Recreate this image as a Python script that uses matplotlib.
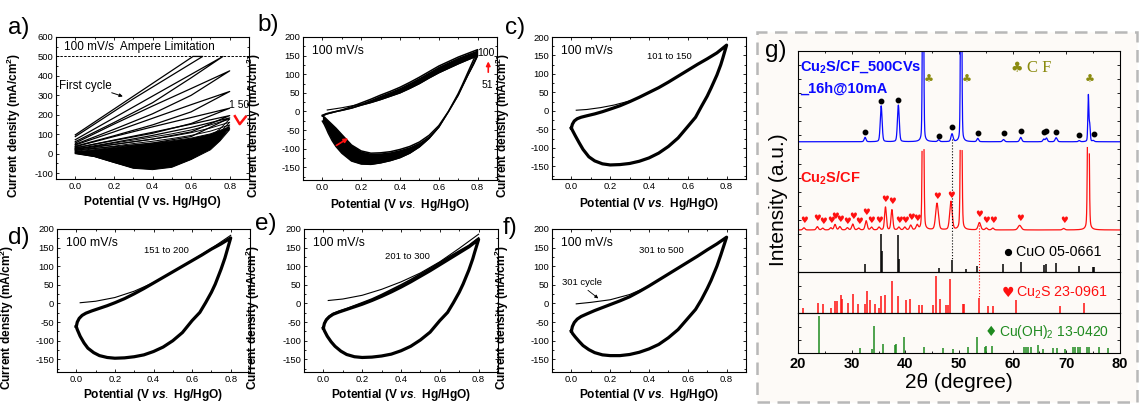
import numpy as np
import matplotlib.pyplot as plt
from matplotlib.patches import Rectangle
from matplotlib.ticker import MultipleLocator, NullFormatter

plt.rcParams['font.family'] = ['Liberation Sans', 'DejaVu Sans']
plt.rcParams['mathtext.fontset'] = 'custom'
plt.rcParams['mathtext.rm'] = 'Liberation Sans'
plt.rcParams['mathtext.it'] = 'Liberation Sans:italic:bold'
plt.rcParams['mathtext.bf'] = 'Liberation Sans:bold'
plt.rcParams['mathtext.default'] = 'regular'
plt.rcParams['axes.unicode_minus'] = False
plt.rcParams['xtick.direction'] = 'in'
plt.rcParams['ytick.direction'] = 'in'
plt.rcParams['axes.linewidth'] = 0.8

# ---------------- CV data (potential V vs Hg/HgO, current mA/cm2) ----------------
# a) cycles 1-50, early cycles as separate loops
a_early_v = [
    [0.0, 0.61, 0.66, 0.30, 0.0],
    [0.0, 0.40, 0.765, 0.60, 0.40, 0.20, 0.0],
    [0.0, 0.2, 0.4, 0.6, 0.8, 0.6, 0.4, 0.2, 0.0],
    [0.0, 0.2, 0.4, 0.6, 0.8, 0.6, 0.4, 0.2, 0.0],
    [0.0, 0.2, 0.4, 0.6, 0.8, 0.6, 0.4, 0.2, 0.0],
    [0.0, 0.2, 0.4, 0.6, 0.8, 0.6, 0.4, 0.2, 0.0],
    [0.0, 0.2, 0.4, 0.6, 0.8, 0.6, 0.4, 0.2, 0.0],
]
a_early_i = [
    [97, 500, 500, 282, 88],
    [72, 296, 500, 390, 262, 160, 62],
    [55, 152, 245, 335, 426, 300, 205, 125, 48],
    [45, 112, 182, 252, 320, 215, 148, 92, 38],
    [36, 88, 138, 186, 234, 155, 105, 68, 30],
    [29, 70, 110, 152, 196, 112, 75, 48, 24],
    [24, 58, 94, 135, 184, 88, 55, 36, 19],
]
# later cycles with the cathodic dip
a_late_v = [0.0, 0.1, 0.2, 0.3, 0.4, 0.5, 0.6, 0.7, 0.8,
            0.75, 0.7, 0.6, 0.5, 0.4, 0.3, 0.2, 0.1, 0.0]
a_late_i = [
    [20, 38, 55, 70, 86, 102, 122, 148, 178, 128, 88, 30, -5, -20, -18, -8, 5, 16],
    [16, 32, 47, 61, 75, 90, 108, 132, 162, 110, 70, 10, -28, -45, -42, -25, -5, 12],
    [12, 26, 39, 52, 64, 78, 94, 116, 148, 95, 55, -8, -45, -60, -56, -36, -10, 8],
    [9, 21, 32, 43, 54, 66, 80, 102, 138, 82, 42, -22, -58, -70, -66, -42, -13, 5],
    [6, 16, 26, 36, 46, 57, 70, 92, 130, 72, 30, -28, -66, -78, -72, -45, -15, 2],
    [3, 12, 21, 30, 40, 50, 62, 84, 124, 66, 20, -30, -70, -82, -75, -45, -15, 0],
]

# b) cycles 51-100, the two edges of the band
b_fv = [0.0, 0.02, 0.05, 0.1, 0.15, 0.2, 0.25, 0.3, 0.35, 0.4, 0.45, 0.5, 0.55, 0.6, 0.65, 0.7, 0.75, 0.8]
b_out_fi = [-12, -7, -3, 4, 13, 23, 33, 44, 54, 65, 78, 92, 107, 122, 134, 146, 156, 166]
b_in_fi = [-10, -6, -2, 3, 9, 17, 24, 32, 41, 50, 62, 75, 90, 104, 116, 128, 139, 150]
b_rv = [0.8, 0.78, 0.75, 0.72, 0.7, 0.65, 0.6, 0.55, 0.5, 0.45, 0.4, 0.35, 0.3, 0.25, 0.2,
        0.15, 0.1, 0.07, 0.05, 0.03, 0.02, 0.01, 0.0]
b_out_ri = [166, 140, 105, 70, 48, 0, -42, -72, -95, -112, -124, -132, -138, -142, -141,
            -133, -112, -94, -78, -58, -46, -35, -26]
b_in_ri = [150, 128, 98, 66, 44, 0, -38, -64, -82, -94, -102, -108, -111, -112, -106,
           -90, -62, -45, -35, -25, -20, -15, -12]
b_start_v = [0.025, 0.1, 0.2]
b_start_i = [4, 10, 20]

# c) to f): one potential grid per sweep direction
cv_fwd_v = [0.0, 0.005, 0.015, 0.03, 0.05, 0.08, 0.12, 0.16, 0.2, 0.25, 0.3, 0.35, 0.4,
            0.45, 0.5, 0.55, 0.6, 0.65, 0.7, 0.75, 0.8]
cv_rev_v = [0.8, 0.79, 0.78, 0.77, 0.75, 0.72, 0.7, 0.67, 0.64, 0.6, 0.55, 0.5, 0.45,
            0.4, 0.35, 0.3, 0.25, 0.2, 0.16, 0.12, 0.09, 0.06, 0.04, 0.02, 0.005, 0.0]

c_fi = [-46, -36, -27, -21, -17, -13, -8, -2, 5, 14, 25, 37, 50, 63, 78, 94, 110, 126, 141, 157, 178]
c_ri = [178, 160, 142, 125, 97, 62, 40, 12, -17, -42, -73, -96, -114, -127, -136, -142,
        -145, -146, -143, -135, -124, -104, -86, -67, -52, -46]
c_start_v = [0.025, 0.08, 0.15, 0.22, 0.3]
c_start_i = [2, 4, 9, 16, 27]

d_fi = [-62, -50, -40, -32, -26, -20, -13, -6, 2, 13, 26, 40, 55, 70, 85, 100, 115, 130, 146, 160, 176]
d_ri = [176, 158, 140, 122, 92, 52, 30, 2, -24, -46, -78, -100, -117, -129, -138, -143,
        -146, -147, -145, -140, -132, -120, -106, -88, -70, -62]
d_start_v = [0.02, 0.1, 0.2, 0.3, 0.4, 0.5, 0.6, 0.7, 0.8]
d_start_i = [2, 6, 16, 33, 56, 85, 116, 148, 183]

e_fi = [-66, -54, -44, -36, -29, -23, -16, -9, -2, 8, 19, 31, 44, 58, 73, 88, 104, 120, 136, 152, 172]
e_fi2 = [-64, -52, -42, -34, -27, -21, -14, -6, 2, 12, 24, 37, 50, 64, 79, 94, 110, 126, 141, 156, 176]
e_ri = [172, 155, 138, 120, 90, 52, 30, 2, -24, -46, -77, -98, -115, -127, -136, -141,
        -144, -145, -143, -137, -128, -115, -103, -88, -73, -66]
e_start_v = [0.025, 0.1, 0.2, 0.3, 0.4, 0.5, 0.6, 0.7, 0.8]
e_start_i = [8, 12, 22, 38, 58, 82, 112, 148, 186]

f_fi = [-74, -62, -51, -42, -35, -28, -19, -11, -3, 7, 18, 32, 47, 63, 79, 95, 111, 127, 144, 160, 178]
f_ri = [178, 162, 146, 130, 100, 62, 40, 10, -16, -40, -70, -92, -110, -122, -131, -137,
        -140, -140, -138, -132, -124, -113, -102, -90, -80, -74]
f_start_v = [0.025, 0.1, 0.2, 0.3, 0.38]
f_start_i = [-1, 3, 10, 24, 42]

# ---------------- XRD data ----------------
# after 500 CVs (blue): peak position (2theta), height, fwhm
blue_pos = [32.5, 35.5, 38.7, 43.3, 46.2, 48.7, 50.4, 53.5, 58.3, 61.5, 65.8, 66.3, 68.1, 72.4, 74.1, 74.35, 75.0]
blue_hgt = [2.4, 19.6, 20.0, 150, 1.0, 4.2, 150, 1.8, 1.2, 2.4, 1.4, 2.0, 2.2, 0.6, 25, 9, 0.6]
blue_wid = [0.4, 0.4, 0.4, 0.25, 0.4, 0.45, 0.25, 0.4, 0.45, 0.45, 0.4, 0.4, 0.45, 0.4, 0.22, 0.25, 0.4]
cuo_dot_x = [32.5, 35.5, 38.7, 46.2, 48.7, 53.5, 58.3, 61.5, 65.8, 66.3, 68.1, 72.4, 75.2]
cuo_dot_y = [55.6, 72.7, 73.0, 53.4, 58.3, 55.0, 55.0, 56.3, 55.7, 56.3, 55.6, 53.9, 54.6]
cf_club_x = [44.4, 51.4, 74.3]
cf_club_y = [84.2, 84.2, 84.2]

# pristine Cu2S/CF (red)
red_pos = [21.1, 23.6, 24.6, 26.1, 26.9, 27.8, 29.2, 30.2, 31.3, 32.7, 33.7, 35.1, 36.3, 37.5, 38.8,
           39.9, 41.0, 42.2, 43.3, 45.9, 48.5, 50.4, 53.8, 55.1, 56.3, 61.3, 69.5, 74.1]
red_hgt = [1.2, 1.8, 1.0, 1.2, 3.0, 1.8, 1.2, 3.2, 1.0, 5.0, 1.5, 1.5, 12.5, 11.0, 1.5,
           1.5, 2.5, 2.5, 120, 14.5, 15.5, 120, 4.0, 1.0, 1.0, 2.5, 0.8, 120]
red_wid = [0.45, 0.45, 0.45, 0.45, 0.45, 0.45, 0.45, 0.45, 0.45, 0.45, 0.45, 0.45, 0.4, 0.4, 0.45,
           0.45, 0.45, 0.45, 0.3, 0.6, 0.55, 0.3, 0.55, 0.45, 0.45, 0.7, 0.5, 0.3]
heart_x = [21.1, 23.6, 24.6, 26.1, 26.9, 27.8, 29.2, 30.2, 31.3, 32.7, 33.7, 35.1, 36.3, 37.5,
           38.8, 39.9, 41.0, 42.2, 45.9, 48.5, 53.8, 55.1, 56.3, 61.3, 69.5]
heart_y = [7.3, 8.2, 6.7, 7.3, 9.8, 7.7, 7.0, 9.8, 6.6, 11.6, 7.5, 7.5, 19.0, 17.5,
           7.5, 7.3, 9.1, 8.6, 20.4, 21.3, 10.4, 7.3, 7.3, 8.6, 7.5]

# reference cards: position, relative intensity
cuo_ref_x = [32.5, 35.4, 35.6, 38.7, 38.9, 46.2, 48.7, 51.3, 53.4, 58.2, 61.5, 65.8, 66.2, 68.1, 72.4, 75.0, 75.2]
cuo_ref_h = [0.20, 1.00, 0.55, 0.97, 0.35, 0.11, 0.31, 0.09, 0.15, 0.20, 0.26, 0.18, 0.21, 0.25, 0.15, 0.14, 0.13]
cu2s_ref_x = [20.9, 23.8, 24.7, 26.1, 26.9, 27.2, 28.0, 28.2, 29.3, 30.3, 31.1, 32.4, 32.9, 33.5, 34.3,
              35.0, 35.4, 36.2, 37.5, 38.7, 40.2, 40.8, 42.6, 43.1, 45.1, 45.8, 46.5, 47.6, 47.9,
              48.4, 50.7, 51.0, 53.7, 55.4, 56.3, 60.6, 68.9, 73.2]
cu2s_ref_h = [0.13, 0.25, 0.21, 0.13, 0.29, 0.29, 0.43, 0.33, 0.25, 0.47, 0.21, 0.23, 0.54, 0.31, 0.21,
              0.13, 0.41, 0.45, 0.77, 0.41, 0.31, 0.33, 0.19, 0.19, 0.20, 0.90, 0.33, 0.20, 0.20,
              0.82, 0.21, 0.21, 0.37, 0.18, 0.17, 0.31, 0.17, 0.25]
cuoh_ref_x = [23.9, 31.5, 33.8, 34.1, 35.9, 38.1, 38.2, 39.8, 43.4, 47.1, 48.8, 51.7, 53.3, 54.9, 55.1,
              56.1, 62.1, 62.5, 62.9, 63.4, 64.7, 65.6, 67.5, 68.3, 69.8, 71.2, 71.6, 72.1, 72.6,
              73.8, 74.2, 76.1, 77.8]
cuoh_ref_h = [0.93, 0.12, 0.11, 0.68, 0.23, 0.20, 0.22, 0.39, 0.14, 0.12, 0.11, 0.15, 0.39, 0.16, 0.17,
              0.18, 0.16, 0.16, 0.16, 0.16, 0.21, 0.10, 0.12, 0.12, 0.10, 0.15, 0.15, 0.15, 0.15,
              0.15, 0.15, 0.16, 0.12]

BLUE = '#0a0aff'
RED = '#ff1010'
GREEN = '#1f8a1f'
OLIVE = '#8b8b10'

W, H = 1141, 405
fig = plt.figure(figsize=(W / 100, H / 100), dpi=100)


def box(x0, y0, x1, y1):
    return [x0 / W, 1 - y1 / H, (x1 - x0) / W, (y1 - y0) / H]


def cv_axes(rect, ylim, ymaj, ymin, ylab_x, italic=True, xlab_y=-0.12):
    ax = fig.add_axes(rect)
    ax.set_xlim(-0.1, 0.9)
    ax.set_ylim(*ylim)
    ax.xaxis.set_major_locator(MultipleLocator(0.2))
    ax.xaxis.set_minor_locator(MultipleLocator(0.1))
    ax.yaxis.set_major_locator(MultipleLocator(ymaj))
    ax.yaxis.set_minor_locator(MultipleLocator(ymin))
    ax.xaxis.set_major_formatter(lambda v, p: f'{v:.1f}')
    ax.tick_params(which='both', top=True, right=True, labelsize=6.8, width=0.6, pad=2)
    ax.tick_params(which='major', length=2.5)
    ax.tick_params(which='minor', length=1.5)
    if italic:
        xl = r'Potential (V $\mathit{vs.}$ Hg/HgO)'
    else:
        xl = 'Potential (V vs. Hg/HgO)'
    ax.set_xlabel(xl, fontsize=8.6, fontweight='bold')
    ax.xaxis.set_label_coords(0.5, xlab_y)
    ax.set_ylabel('Current density (mA/cm$^2$)', fontsize=8.6, fontweight='bold')
    ax.yaxis.set_label_coords(ylab_x, 0.38)
    return ax


# ---- a ----
ax = cv_axes(box(56, 37, 249, 179), (-130, 600), 100, 50, -0.17, italic=False)
ax.axhline(500, color='k', lw=0.7, ls=(0, (2.5, 1.5)))
v = a_late_v
ax.fill(v[:9] + v[9:], a_late_i[3][:9] + a_late_i[5][9:], color='k', lw=0)
for cur in a_late_i:
    ax.plot(v, cur, color='k', lw=0.7)
for vv, cur in zip(a_early_v, a_early_i):
    ax.plot(vv, cur, color='k', lw=0.9)
ax.text(-0.06, 548, '100 mV/s  Ampere Limitation', fontsize=8.5, va='center')
ax.text(-0.085, 347, 'First cycle', fontsize=8.4, va='center')
ax.annotate('', xy=(0.26, 290), xytext=(0.175, 318),
            arrowprops=dict(arrowstyle='-|>', color='k', lw=0.7, mutation_scale=5))
ax.text(0.795, 250, '1 50', fontsize=7.5, va='center')
ax.plot([0.827, 0.852, 0.883], [193, 152, 190], color=RED, lw=1.8)

# ---- b ----
ax = cv_axes(box(303, 37, 497, 180), (-184, 200), 50, 25, -0.206)
ax.fill_between(b_fv, b_in_fi, b_out_fi, color='k', lw=0)
ax.fill_between(b_rv, b_in_ri, b_out_ri, color='k', lw=0)
ax.plot(b_fv + b_rv, b_out_fi + b_out_ri, color='k', lw=1.1, solid_joinstyle='round')
ax.plot(b_fv + b_rv, b_in_fi + b_in_ri, color='k', lw=1.1, solid_joinstyle='round')
ax.plot(b_start_v, b_start_i, color='k', lw=0.8)
ax.text(-0.055, 162, '100 mV/s', fontsize=8.8, va='center')
ax.annotate('', xy=(0.145, -68), xytext=(0.06, -95),
            arrowprops=dict(arrowstyle='-|>', color=RED, lw=1.2, mutation_scale=6))
ax.annotate('', xy=(0.855, 142), xytext=(0.855, 98),
            arrowprops=dict(arrowstyle='-|>', color=RED, lw=1.2, mutation_scale=6))
ax.text(0.80, 158, '100', fontsize=7.5, va='center')
ax.text(0.82, 72, '51', fontsize=7.5, va='center')

# ---- c to f ----
loops = [
    (box(552, 37, 746, 179), c_fi, c_ri, c_start_v, c_start_i, '101 to 150', (0.39, 147), -0.12, -0.206),
    (box(57, 229, 250, 372), d_fi, d_ri, d_start_v, d_start_i, '151 to 200', (0.35, 141), -0.105, -0.21),
    (box(304, 229, 498, 372), e_fi, e_ri, e_start_v, e_start_i, '201 to 300', (0.316, 125), -0.105, -0.216),
    (box(552, 229, 746, 372), f_fi, f_ri, f_start_v, f_start_i, '301 to 500', (0.35, 142), -0.105, -0.211),
]
for rect, fi, ri, sv, si, lab, pos, xly, ylx in loops:
    ax = cv_axes(rect, (-184, 200), 50, 25, ylx, xlab_y=xly)
    ax.plot(cv_fwd_v + cv_rev_v, fi + ri, color='k', lw=2.3, solid_joinstyle='round')
    ax.plot(sv, si, color='k', lw=0.8)
    if lab == '201 to 300':
        ax.plot(cv_fwd_v, e_fi2, color='k', lw=1.2)
    ax.text(-0.055, 162, '100 mV/s', fontsize=8.8, va='center')
    ax.text(pos[0], pos[1], lab, fontsize=6.8, va='center')
    if lab == '301 to 500':
        ax.text(-0.046, 56, '301 cycle', fontsize=6.8, va='center')
        ax.annotate('', xy=(0.15, 9), xytext=(0.074, 40),
                    arrowprops=dict(arrowstyle='-|>', color='k', lw=0.6, mutation_scale=5))

# panel letters
for lab, x, y in [('a)', 8, 34), ('b)', 257, 31), ('c)', 505, 34),
                  ('d)', 8, 244), ('e)', 255, 230), ('f)', 503, 234), ('g)', 765, 57)]:
    fig.text(x / W, 1 - y / H, lab, fontsize=17.5, va='baseline', ha='left')

# ---------------- g: XRD ----------------
frame = Rectangle((757 / W, 1 - 402 / H), (1137 - 757) / W, (402 - 32) / H,
                  transform=fig.transFigure, facecolor='#fdfaf7', edgecolor='#b8b8b8',
                  lw=1.8, ls=(0, (5, 3)), zorder=-1)
fig.patches.append(frame)

tt = np.linspace(20, 80, 6000)


def pattern(pos, hgt, wid):
    y = np.zeros_like(tt)
    for p, h, w in zip(pos, hgt, wid):
        d = (tt - p) / w
        y += h * (0.75 * np.exp(-4 * np.log(2) * d ** 2) + 0.25 / (1 + 4 * d ** 2))
    return y


ax_top = fig.add_axes(box(798, 51, 1120, 234))
ax_cuo = fig.add_axes(box(798, 234, 1120, 272))
ax_cu2s = fig.add_axes(box(798, 272, 1120, 313))
ax_oh = fig.add_axes(box(798, 313, 1120, 353))
for a in (ax_top, ax_cuo, ax_cu2s, ax_oh):
    a.set_facecolor('none')
    a.set_xlim(20, 80)
    a.xaxis.set_major_locator(MultipleLocator(10))
    a.xaxis.set_minor_locator(MultipleLocator(5))
    a.yaxis.set_major_formatter(NullFormatter())
    a.tick_params(which='both', left=True, right=True, top=False, bottom=False,
                  labelbottom=False, width=0.6, length=2.5)

ax_top.set_ylim(0, 100)
ax_top.spines['bottom'].set_visible(False)
ax_top.yaxis.set_major_locator(MultipleLocator(7.7))
ax_top.tick_params(which='both', top=True)
ax_top.tick_params(which='minor', length=1.5)

blue = 50.4 + pattern(blue_pos, blue_hgt, blue_wid)
red = 2.2 + pattern(red_pos, red_hgt, red_wid)
red[red > 47.5] = np.nan
ax_top.plot(tt, blue, color=BLUE, lw=0.9)
ax_top.plot(tt, red, color=RED, lw=0.9)
ax_top.plot(cuo_dot_x, cuo_dot_y, 'o', color='k', ms=3.2, ls='none')
for x, y in zip(heart_x, heart_y):
    ax_top.text(x, y, '\u2665', color=RED, fontsize=6.2, ha='center', va='center',
                family='DejaVu Sans')
for x, y in zip(cf_club_x, cf_club_y):
    ax_top.text(x, y, '\u2663', color=OLIVE, fontsize=8, ha='center', va='center',
                family='DejaVu Sans')
ax_top.text(60.8, 90.5, '\u2663', color=OLIVE, fontsize=10, ha='center', va='center',
            family='DejaVu Sans')
ax_top.text(62.6, 90.5, 'C F', color=OLIVE, fontsize=12, ha='left', va='center',
            family='Liberation Serif')
ax_top.text(20.4, 91.5, 'Cu$_2$S/CF_500CVs', color=BLUE, fontsize=10.5,
            fontweight='bold', va='center')
ax_top.text(20.4, 79.5, '_16h@10mA', color=BLUE, fontsize=10.5,
            fontweight='bold', va='center')
ax_top.text(20.4, 30.6, 'Cu$_2$S/CF', color=RED, fontsize=10.5,
            fontweight='bold', va='center')
ax_top.plot([48.7, 48.7], [52, 0], ls=':', color='k', lw=0.8)
ax_top.plot([53.8, 53.8], [6.5, 0], ls=':', color=RED, lw=0.8)

ax_cuo.set_ylim(0, 1.0)
ax_cuo.spines['top'].set_visible(False)
ax_cuo.yaxis.set_major_locator(MultipleLocator(0.34))
ax_cuo.vlines(cuo_ref_x, 0, cuo_ref_h, color='k', lw=1.1)
ax_cuo.plot([48.7, 48.7], [1.0, 0.31], ls=':', color='k', lw=0.8)
ax_cuo.plot([53.8, 53.8], [1.0, 0.0], ls=':', color=RED, lw=0.8)
ax_cuo.plot([59.2], [0.53], 'o', color='k', ms=4.2)
ax_cuo.text(60.6, 0.53, 'CuO 05-0661', fontsize=10.3, va='center')

ax_cu2s.set_ylim(0, 1.0)
ax_cu2s.yaxis.set_major_locator(MultipleLocator(0.33))
ax_cu2s.vlines(cu2s_ref_x, 0, cu2s_ref_h, color=RED, lw=1.1)
ax_cu2s.plot([53.8, 53.8], [1.0, 0.37], ls=':', color=RED, lw=0.8)
ax_cu2s.text(59.2, 0.49, '\u2665', color=RED, fontsize=10, ha='center', va='center',
             family='DejaVu Sans')
ax_cu2s.text(60.6, 0.49, 'Cu$_2$S 23-0961', color=RED, fontsize=10.3, va='center')

ax_oh.set_ylim(0, 1.0)
ax_oh.yaxis.set_major_locator(MultipleLocator(0.33))
ax_oh.vlines(cuoh_ref_x, 0, cuoh_ref_h, color=GREEN, lw=1.1)
ax_oh.text(56.0, 0.52, '\u2666', color=GREEN, fontsize=10, ha='center', va='center',
           family='DejaVu Sans')
ax_oh.text(57.5, 0.52, 'Cu(OH)$_2$ 13-0420', color=GREEN, fontsize=10, va='center')
ax_oh.tick_params(which='both', bottom=True, labelbottom=True, labelsize=10.5, pad=3)
ax_oh.tick_params(which='minor', length=1.5)
for lab in ax_oh.get_xticklabels():
    lab.set_fontweight('bold')
ax_oh.set_xlabel('2\u03b8 (degree)', fontsize=15, labelpad=1)
fig.text(778 / W, 1 - 200 / H, 'Intensity (a.u.)', fontsize=15, rotation=90,
         ha='center', va='center')

fig.savefig('out.png', dpi=100)
